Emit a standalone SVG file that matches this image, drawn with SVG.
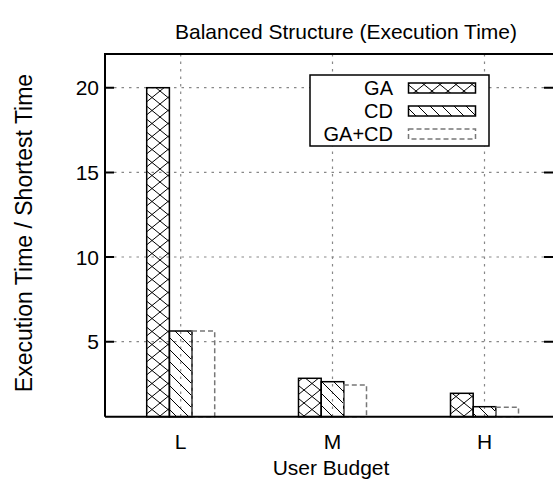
<svg xmlns="http://www.w3.org/2000/svg" width="553" height="490" viewBox="0 0 553 490">
<style>
text{font-family:"Liberation Sans",Arial,sans-serif;font-size:21px;fill:#000}
.lg{font-size:20px}
.yl{font-size:23px}
.grid{stroke:#888;stroke-width:1.2;stroke-dasharray:2.5,5;fill:none}
.axis{stroke:#000;stroke-width:2;fill:none}
.ga{fill:url(#xhatch);stroke:#000;stroke-width:1.5}
.cd{fill:url(#dhatch);stroke:#000;stroke-width:1.5}
.gacd{fill:none;stroke:#777;stroke-width:1.5;stroke-dasharray:5,3}
</style>
<defs>
<pattern id="xhatch" patternUnits="userSpaceOnUse" width="16" height="13">
<path d="M0,0 L16,13 M0,13 L16,0" stroke="#000" stroke-width="1"/>
</pattern>
<pattern id="dhatch" patternUnits="userSpaceOnUse" width="12" height="12">
<path d="M-3,-3 L15,15 M-3,9 L3,15 M9,-3 L15,3" stroke="#000" stroke-width="1"/>
</pattern>
</defs>
<rect width="553" height="490" fill="#fff"/>
<g id="grid">
<path class="grid" d="M114,341.7 H544 M114,257 H544 M114,172.4 H544 M114,87.7 H544"/>
<path class="grid" d="M180.7,54 V416.7 M332.5,54 V416.7 M484.5,54 V416.7"/>
</g>
<g id="bars">
<g id="L">
<rect class="ga" x="146.7" y="87.7" width="22.7" height="329"/>
<rect class="cd" x="169.4" y="331" width="22.6" height="85.7"/>
<rect class="gacd" x="192" y="331" width="22.7" height="85.7"/>
</g>
<g id="M">
<rect class="ga" x="298.5" y="378.3" width="22.7" height="38.4"/>
<rect class="cd" x="321.2" y="381.7" width="22.6" height="35"/>
<rect class="gacd" x="343.8" y="385" width="22.7" height="31.7"/>
</g>
<g id="H">
<rect class="ga" x="450.5" y="393.3" width="22.7" height="23.4"/>
<rect class="cd" x="473.2" y="406.7" width="22.6" height="10"/>
<rect class="gacd" x="495.8" y="407.3" width="22.7" height="9.4"/>
</g>
</g>
<g id="axes">
<path class="axis" d="M105,416.7 V54 H554 M105,416.7 H554"/>
<path class="axis" d="M105,341.7 h9 M105,257 h9 M105,172.4 h9 M105,87.7 h9 M553,341.7 h-9 M553,257 h-9 M553,172.4 h-9 M553,87.7 h-9"/>
<text x="99" y="349.3" text-anchor="end">5</text>
<text x="99" y="264.6" text-anchor="end">10</text>
<text x="99" y="180" text-anchor="end">15</text>
<text x="99" y="95.3" text-anchor="end">20</text>
<text x="180.7" y="449" text-anchor="middle">L</text>
<text x="332.5" y="449" text-anchor="middle">M</text>
<text x="484.5" y="449" text-anchor="middle">H</text>
<text x="331" y="475" text-anchor="middle">User Budget</text>
<text x="346" y="39" text-anchor="middle">Balanced Structure (Execution Time)</text>
<text class="yl" transform="translate(32,233) rotate(-90)" text-anchor="middle">Execution Time / Shortest Time</text>
</g>
<g id="legend">
<rect x="310" y="75" width="179" height="71" fill="#fff" stroke="#000" stroke-width="1.5"/>
<rect class="ga" x="408.5" y="83" width="67" height="10"/>
<rect class="cd" x="408.5" y="106" width="67" height="10"/>
<rect class="gacd" x="408.5" y="129" width="67" height="10"/>
<text class="lg" x="393" y="95" text-anchor="end">GA</text>
<text class="lg" x="393" y="118" text-anchor="end">CD</text>
<text class="lg" x="393" y="141" text-anchor="end">GA+CD</text>
</g>
</svg>
